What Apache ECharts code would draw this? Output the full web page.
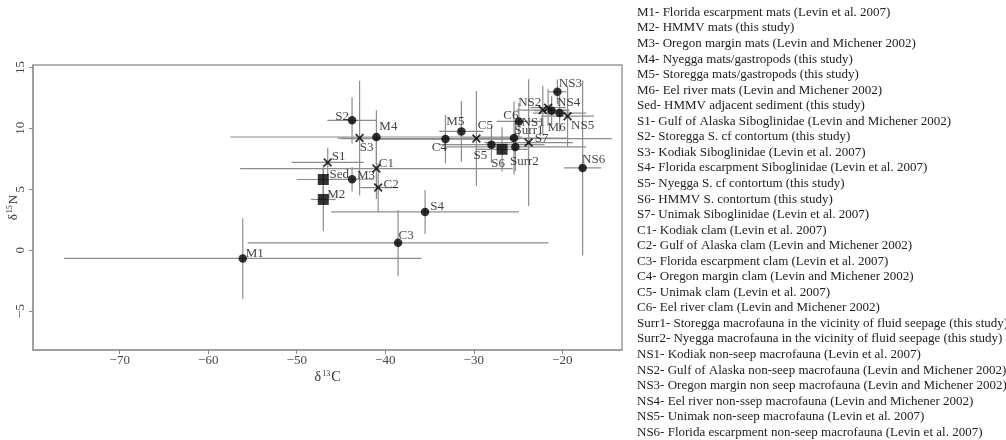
<!DOCTYPE html>
<html>
<head>
<meta charset="utf-8">
<script src="https://cdn.jsdelivr.net/npm/echarts@6/dist/echarts.min.js"></script>
<style>
  html, body { margin: 0; padding: 0; background: #fff; }
  #chart { width: 1006px; height: 440px; }
</style>
</head>
<body>
<div id="chart"></div>
<script>
// point labels, means and sd
var names = ['M1','M2','M3','M4','M5','M6','Sed','S1','S2','S3','S4','S5','S6','S7',
  'C1','C2','C3','C4','C5','C6','Surr1','Surr2','NS1','NS2','NS3','NS4','NS5','NS6'];
var d13C = [-56.1,-47.0,-43.75,-41.0,-31.4,-21.2,-47.0,-46.5,-43.75,-42.9,-35.5,-28.0,-26.8,-23.8,
  -41.0,-40.8,-38.55,-33.2,-29.7,-24.9,-25.45,-25.3,-21.6,-22.2,-20.55,-20.3,-19.4,-17.7];
var d15N = [-0.68,4.16,5.82,9.29,9.75,11.45,5.8,7.2,10.66,9.2,3.14,8.66,8.28,8.83,
  6.7,5.14,0.6,9.12,9.16,10.57,9.2,8.47,11.7,11.5,13.0,11.25,11.0,6.75];
var sdC = [20.2,1.4,2.5,16.5,2.5,2,3,4.1,2.8,2.5,10.6,6,3,5,
  15.4,2,17,8,15.3,2.5,6,8,2,3,1,3,3,2.1];
var sdN = [3.3,2.6,1.0,2.2,2.5,1.2,1.2,1.2,1.9,4.7,1.8,1.5,1.8,5.2,
  2.5,2.0,2.7,2.0,3.9,1.5,3.0,2.0,1.5,2.0,1.0,1.5,2.5,7.2];
var markers = ['dot','square','dot','dot','dot','dot','square','cross','dot','cross','dot','dot','square','cross',
  'cross','cross','dot','dot','cross','dot','dot','dot','cross','cross','dot','dot','cross','dot'];

var xTicks = [-70, -60, -50, -40, -30, -20];
var yTicks = [-5, 0, 5, 10, 15];

var legendLines = [
  'M1- Florida escarpment mats (Levin et al. 2007)',
  'M2- HMMV mats (this study)',
  'M3- Oregon margin mats (Levin and Michener 2002)',
  'M4- Nyegga mats/gastropods (this study)',
  'M5- Storegga mats/gastropods (this study)',
  'M6- Eel river mats (Levin and Michener 2002)',
  'Sed- HMMV adjacent sediment (this study)',
  'S1- Gulf of Alaska Siboglinidae (Levin and Michener 2002)',
  'S2- Storegga S. cf contortum (this study)',
  'S3- Kodiak Siboglinidae (Levin et al. 2007)',
  'S4- Florida escarpment Siboglinidae (Levin et al. 2007)',
  'S5- Nyegga S. cf contortum (this study)',
  'S6- HMMV S. contortum (this study)',
  'S7- Unimak Siboglinidae (Levin et al. 2007)',
  'C1- Kodiak clam (Levin et al. 2007)',
  'C2- Gulf of Alaska clam (Levin and Michener 2002)',
  'C3- Florida escarpment clam (Levin et al. 2007)',
  'C4- Oregon margin clam (Levin and Michener 2002)',
  'C5- Unimak clam (Levin et al. 2007)',
  'C6- Eel river clam (Levin and Michener 2002)',
  'Surr1- Storegga macrofauna in the vicinity of fluid seepage (this study)',
  'Surr2- Nyegga macrofauna in the vicinity of fluid seepage (this study)',
  'NS1- Kodiak non-seep macrofauna (Levin et al. 2007)',
  'NS2- Gulf of Alaska non-seep macrofauna (Levin and Michener 2002)',
  'NS3- Oregon margin non seep macrofauna (Levin and Michener 2002)',
  'NS4- Eel river non-ssep macrofauna (Levin and Michener 2002)',
  'NS5- Unimak non-seep macrofauna (Levin et al. 2007)',
  'NS6- Florida escarpment non-seep macrofauna (Levin et al. 2007)'
];

// label offsets (px, centre of label relative to the marker)
var labelOffset = {
  M1: [12, -5], M2: [13, -5], M3: [14, -4], M4: [12, -10], M5: [-6, -10], M6: [5, 17],
  Sed: [16, -5], S1: [11, -6], S2: [-10, -4], S3: [7, 10], S4: [12, -5], S5: [-11, 11],
  S6: [-4, 14], S7: [13, -4], C1: [10, -5], C2: [13, -3], C3: [8, -7], C4: [-6, 9],
  C5: [9, -13], C6: [-8, -6], Surr1: [15, -7], Surr2: [9, 15], NS1: [-15, 15],
  NS2: [-13, -7], NS3: [13, -8], NS4: [9, -11], NS5: [15, 9], NS6: [11, -8]
};

var crossPath = 'path://M0,1.4L1.4,0L5,3.6L8.6,0L10,1.4L6.4,5L10,8.6L8.6,10L5,6.4L1.4,10L0,8.6L3.6,5Z';
var serif = '"Liberation Serif", "DejaVu Serif", serif';

var points = names.map(function (n, i) {
  var sym = markers[i] === 'square' ? 'rect' : (markers[i] === 'cross' ? crossPath : 'circle');
  var size = markers[i] === 'square' ? 11 : (markers[i] === 'cross' ? 9 : 8.5);
  return {
    value: [d13C[i], d15N[i]],
    symbol: sym,
    symbolSize: size,
    label: { show: true, formatter: n, position: 'inside', offset: labelOffset[n] }
  };
});

var bars = names.map(function (n, i) {
  return [d13C[i], d15N[i], sdC[i], sdN[i]];
});

function minus(v) {
  return String(v).replace('-', '\u2212');
}

var myChart = echarts.init(document.getElementById('chart'), null, { renderer: 'canvas' });

myChart.setOption({
  animation: false,
  backgroundColor: '#fff',
  grid: {
    left: 33, right: 384, top: 65, bottom: 90, outerBoundsMode: 'none',
    show: true, borderColor: '#9a9a9a', borderWidth: 1.5
  },
  xAxis: {
    type: 'value', min: -79.8, max: -13.25,
    name: '\u03b4{sup|13}C', nameLocation: 'middle', nameGap: 20, nameMoveOverlap: false,
    nameTextStyle: {
      fontFamily: serif, fontSize: 14, color: '#333',
      rich: { sup: { fontSize: 8, verticalAlign: 'top', padding: [0, 1, 7, 1], fontFamily: serif, color: '#333' } }
    },
    axisLine: { show: true, onZero: false, lineStyle: { color: '#9a9a9a', width: 1.5 } },
    splitLine: { show: false },
    axisTick: { show: true, customValues: xTicks, length: 4, lineStyle: { color: '#888', width: 1 } },
    axisLabel: { customValues: xTicks, formatter: minus, fontFamily: serif, fontSize: 13, color: '#444', margin: 4 }
  },
  yAxis: {
    type: 'value', min: -8.2, max: 15.2,
    name: '\u03b4{sup|15}N', nameLocation: 'middle', nameGap: 12, nameRotate: 90, nameMoveOverlap: false,
    nameTextStyle: {
      fontFamily: serif, fontSize: 13, color: '#333',
      rich: { sup: { fontSize: 8, verticalAlign: 'top', padding: [0, 1, 7, 1], fontFamily: serif, color: '#333' } }
    },
    axisLine: { show: true, onZero: false, lineStyle: { color: '#9a9a9a', width: 1.5 } },
    splitLine: { show: false },
    axisTick: { show: true, customValues: yTicks, length: 4, lineStyle: { color: '#888', width: 1 } },
    axisLabel: { customValues: yTicks, formatter: minus, rotate: 90, fontFamily: serif, fontSize: 13, color: '#444', margin: 6 }
  },
  series: [
    {
      type: 'custom',
      data: bars,
      encode: { x: 0, y: 1 },
      silent: true,
      z: 1,
      renderItem: function (params, api) {
        var x = api.value(0), y = api.value(1), sx = api.value(2), sy = api.value(3);
        var l = api.coord([x - sx, y]), r = api.coord([x + sx, y]);
        var t = api.coord([x, y + sy]), b = api.coord([x, y - sy]);
        var st = { stroke: '#8c8c8c', lineWidth: 1.2 };
        return {
          type: 'group',
          children: [
            { type: 'line', shape: { x1: l[0], y1: l[1], x2: r[0], y2: r[1] }, style: st },
            { type: 'line', shape: { x1: t[0], y1: t[1], x2: b[0], y2: b[1] }, style: st }
          ]
        };
      }
    },
    {
      type: 'scatter',
      data: points,
      z: 3,
      itemStyle: { color: '#000' },
      label: { fontFamily: serif, fontSize: 13, color: '#111' }
    }
  ],
  graphic: legendLines.map(function (t, i) {
    return {
      type: 'text', left: 637, top: 6 + i * 15.55,
      style: { text: t, font: '13px ' + serif, fill: '#222' }
    };
  })
});

window.addEventListener('resize', function () { myChart.resize(); });
</script>
</body>
</html>
